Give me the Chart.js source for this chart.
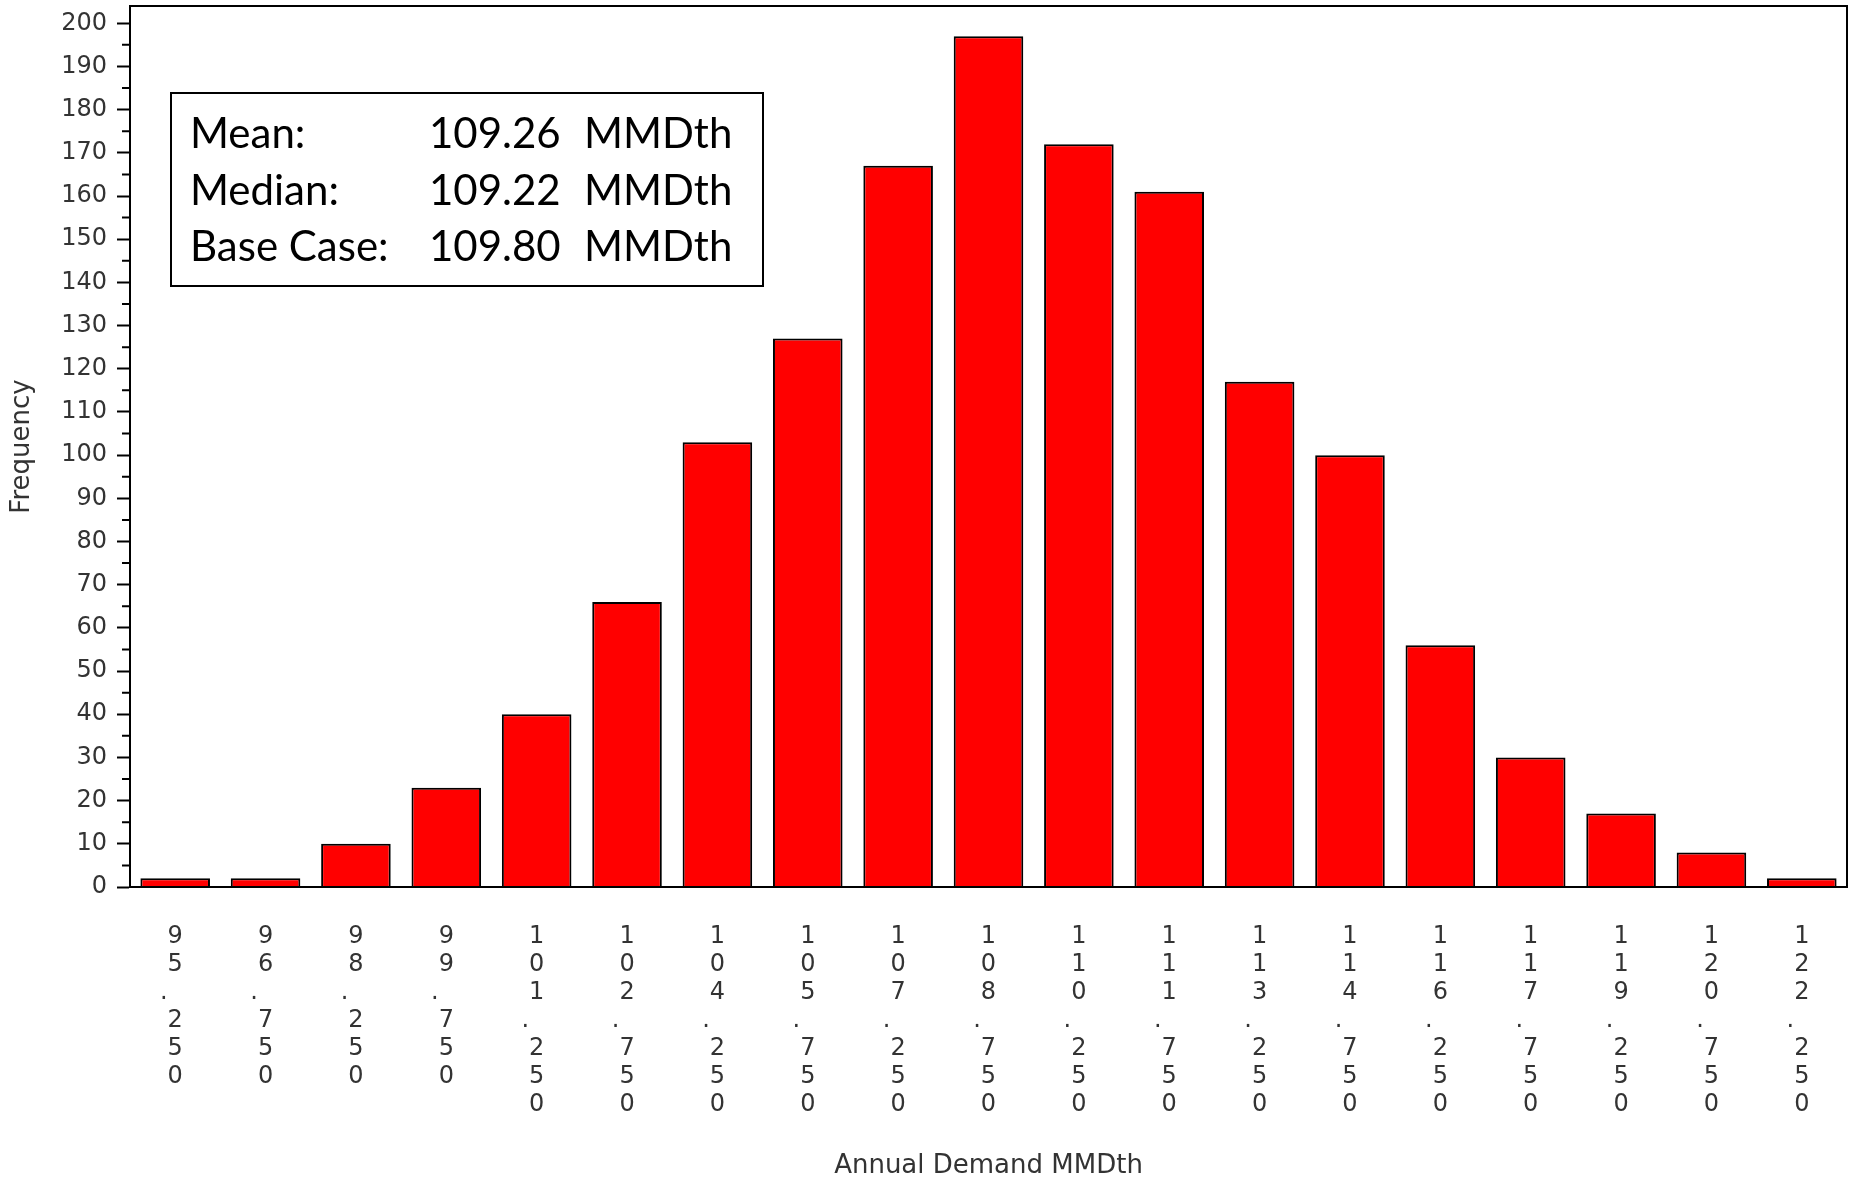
<!DOCTYPE html>
<html>
<head>
<meta charset="utf-8">
<script src="https://cdn.jsdelivr.net/npm/chart.js@4.4.1/dist/chart.umd.min.js"></script>
<style>
  html, body { margin: 0; padding: 0; background: #fff; }
  #wrap { width: 1849px; height: 1179px; position: relative; }
</style>
</head>
<body>
<div id="wrap"><canvas id="myChart"></canvas></div>
<script>
// bin centres (MMDth) and counts
const categories = ['95.250', '96.750', '98.250', '99.750', '101.250', '102.750', '104.250',
  '105.750', '107.250', '108.750', '110.250', '111.750', '113.250', '114.750', '116.250',
  '117.750', '119.250', '120.750', '122.250'];
const frequency = [2, 2, 10, 23, 40, 66, 103, 127, 167, 197, 172, 161, 117, 100, 56, 30, 17, 8, 2];

const yTicks = [0, 10, 20, 30, 40, 50, 60, 70, 80, 90, 100, 110, 120, 130, 140, 150, 160, 170, 180, 190, 200];
const yMinorTicks = [5, 15, 25, 35, 45, 55, 65, 75, 85, 95, 105, 115, 125, 135, 145, 155, 165, 175, 185, 195];

const statLabels = ['Mean:', 'Median:', 'Base Case:'];
const statValues = ['109.26', '109.22', '109.80'];
const statUnit = 'MMDth';

// box round the plot + the short minor ticks on the y axis
const frame = {
  id: 'frame',
  afterDraw(chart) {
    const { ctx, chartArea: a, scales: { y } } = chart;
    ctx.save();
    ctx.strokeStyle = '#000';
    ctx.lineWidth = 2;
    ctx.strokeRect(a.left, a.top, a.right - a.left, a.bottom - a.top);
    ctx.beginPath();
    yMinorTicks.forEach(v => {
      const py = y.getPixelForValue(v);
      ctx.moveTo(a.left - 8, py);
      ctx.lineTo(a.left, py);
    });
    ctx.stroke();
    ctx.restore();
  }
};

// the summary box in the top left
const statsBox = {
  id: 'statsBox',
  afterDraw(chart) {
    const { ctx, chartArea: a } = chart;
    const x = a.left + 41, y = a.top + 87, w = 592, h = 193;
    ctx.save();
    ctx.fillStyle = '#fff';
    ctx.fillRect(x, y, w, h);
    ctx.strokeStyle = '#000';
    ctx.lineWidth = 2;
    ctx.strokeRect(x, y, w, h);
    ctx.fillStyle = '#000';
    ctx.font = '42px Lato';
    ctx.textBaseline = 'alphabetic';
    statLabels.forEach((lab, i) => {
      const by = y + 55 + i * 56.5;
      ctx.fillText(lab, x + 19, by);
      ctx.fillText(statValues[i], x + 258, by);
      ctx.fillText(statUnit, x + 413, by);
    });
    ctx.restore();
  }
};

const textColor = '#333';

const ctx = document.getElementById('myChart').getContext('2d');
const myChart = new Chart(ctx, {
  type: 'bar',
  data: {
    labels: categories,
    datasets: [{
      label: 'Frequency',
      data: frequency,
      backgroundColor: '#ff0000',
      borderColor: '#000',
      borderWidth: 2,
      barPercentage: 0.77,
      categoryPercentage: 1
    }]
  },
  options: {
    responsive: true,
    maintainAspectRatio: false,
    animation: false,
    layout: { padding: { top: 6, right: 2, bottom: 0, left: 0 } },
    plugins: {
      legend: { display: false },
      tooltip: { enabled: false }
    },
    scales: {
      x: {
        grid: { display: false, drawTicks: false },
        border: { display: true, color: '#000', width: 2 },
        ticks: {
          autoSkip: false,
          maxRotation: 0,
          minRotation: 0,
          padding: 36,
          color: textColor,
          font: { family: 'DejaVu Sans', size: 24, lineHeight: 28 / 24 },
          // one character per line, like the original
          callback(v) {
            return this.getLabelForValue(v).split('').map(c => c === '.' ? '.   ' : c);
          }
        },
        title: {
          display: true,
          text: 'Annual Demand MMDth',
          color: textColor,
          font: { family: 'DejaVu Sans', size: 26, lineHeight: 1 },
          padding: { top: 0, bottom: 0 }
        },
        afterFit(s) { s.height = 292; s.paddingLeft = 0; s.paddingRight = 0; }
      },
      y: {
        min: 0,
        max: 204,
        afterBuildTicks(s) { s.ticks = yTicks.map(v => ({ value: v })); },
        grid: { drawOnChartArea: false, drawTicks: true, tickLength: 13, tickColor: '#000', tickWidth: 2 },
        border: { display: true, color: '#000', width: 2 },
        ticks: {
          padding: 10,
          color: textColor,
          font: { family: 'DejaVu Sans', size: 24 }
        },
        title: {
          display: true,
          text: 'Frequency',
          color: textColor,
          font: { family: 'DejaVu Sans', size: 26, lineHeight: 1 },
          padding: { top: 9, bottom: 0 }
        },
        afterFit(s) { s.width = 130; s.paddingTop = 0; s.paddingBottom = 0; }
      }
    }
  },
  plugins: [frame, statsBox]
});
</script>
</body>
</html>
